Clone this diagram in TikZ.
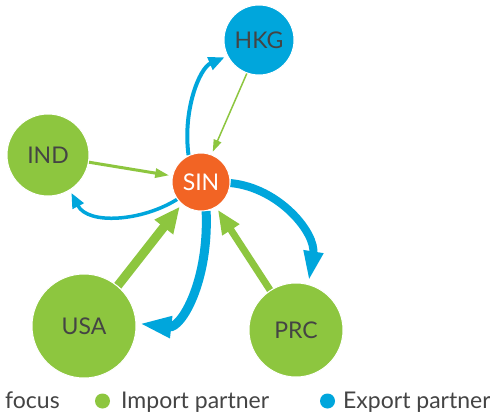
\documentclass[tikz,border=0pt]{standalone}
\usepackage{fontspec}
\setmainfont{Lato}
\usetikzlibrary{arrows.meta,backgrounds}
\definecolor{impgreen}{HTML}{8DC63F}
\definecolor{expblue}{HTML}{00A6DC}
\definecolor{focusorange}{HTML}{F26424}
\definecolor{labelgray}{HTML}{444444}

\begin{document}
\begin{tikzpicture}[
  x=1pt, y=-1pt,
  ctry/.style={circle, draw=white, line width=1pt, inner sep=0pt, text=labelgray,
               font=\fontsize{23}{27}\selectfont},
  imp/.style={ctry, fill=impgreen},
  expt/.style={ctry, fill=expblue},
  fcs/.style={ctry, fill=focusorange, text=white},
  ia/.style={impgreen, shorten >=3pt},
  ea/.style={expblue, shorten >=3pt},
  lgd/.style={font=\fontsize{23}{27}\selectfont, text=labelgray, anchor=base west, inner sep=0pt},
  dot/.style={circle, inner sep=0pt, minimum size=15pt}
]
\useasboundingbox (0,0) rectangle (490,415);

% countries
\node[expt, minimum size=70pt]  (hkg) at (259,40)  {HKG};
\node[imp,  minimum size=82pt]  (ind) at (48,155)  {IND};
\node[fcs,  minimum size=58pt]  (sin) at (201,182) {SIN};
\node[imp,  minimum size=104pt] (usa) at (84,326)  {USA};
\node[imp,  minimum size=94pt]  (prc) at (296,330) {PRC};

% flows
\begin{scope}[on background layer]
\fill[white] (0,0) rectangle (490,415);
\draw[ia, line width=1.5pt, -{Triangle[length=12pt,width=8pt]}]  (hkg.-110) -- (sin.69);
\draw[ia, line width=3pt,   -{Triangle[length=14pt,width=9pt]}]  (ind.-10) -- (sin.168);
\draw[ia, line width=9pt,   -{Triangle[length=26pt,width=22pt]}] (usa.50) -- (sin.229);
\draw[ia, line width=7pt,   -{Triangle[length=24pt,width=19pt]}] (prc.123) -- (sin.-59);
\draw[ea, line width=4pt,   -{Triangle[length=16pt,width=13pt]}]
  (sin.115) .. controls +(-6,-45) and +(-28,12) .. (hkg.207);
\draw[ea, line width=3.5pt, -{Triangle[length=15pt,width=12pt]}]
  (sin.216) .. controls +(-35,22) and +(18,35) .. (ind.-58);
\draw[ea, line width=9pt,   -{Triangle[length=32pt,width=20pt]}]
  (sin.-80) .. controls +(3,70) and +(45,5) .. (usa.3);
\draw[ea, line width=8pt,   -{Triangle[length=30pt,width=18pt]}]
  (sin.-2) .. controls +(50,5) and +(8,-50) .. (prc.75);
\end{scope}

% legend
\node[lgd] (lfcs) at (5,408) {focus};
\node[dot, fill=impgreen] (dimp) at (102.5,401) {};
\node[lgd] (limp) at (121,408) {Import partner};
\node[dot, fill=expblue] (dexp) at (327.5,401) {};
\node[lgd] (lexp) at (343,408) {Export partner};
\end{tikzpicture}
\end{document}
